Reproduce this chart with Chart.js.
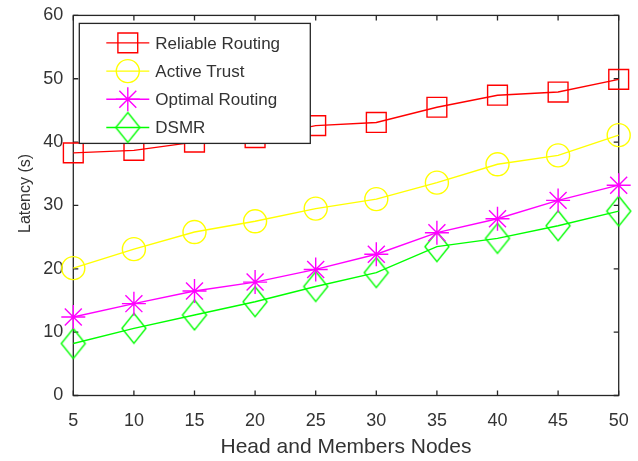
<!DOCTYPE html>
<html>
<head>
<meta charset="utf-8">
<script src="https://cdn.jsdelivr.net/npm/chart.js@4"></script>
<style>
  html, body { margin: 0; padding: 0; background: #fff; }
  #wrap { width: 638px; height: 461px; }
</style>
</head>
<body>
<div id="wrap"><canvas id="latency-chart"></canvas></div>
<script>
const nodes = [5, 10, 15, 20, 25, 30, 35, 40, 45, 50];
const reliableRouting = [38.3, 38.7, 40.0, 40.7, 42.6, 43.1, 45.5, 47.4, 47.9, 49.9];
const activeTrust = [20.1, 23.1, 25.8, 27.5, 29.5, 31.0, 33.6, 36.5, 37.9, 41.1];
const optimalRouting = [12.4, 14.5, 16.5, 17.9, 19.9, 22.3, 25.7, 27.9, 30.8, 33.2];
const dsmr = [8.2, 10.6, 12.7, 14.8, 17.2, 19.4, 23.5, 24.8, 26.8, 29.1];
const seriesNames = ['Reliable Routing', 'Active Trust', 'Optimal Routing', 'DSMR'];
const yTitle = 'Latency (s)';

const axisColor = '#262626';
const textColor = '#333333';
const fontFamily = '"Liberation Sans", Arial, sans-serif';

// tall diamond marker (matlab style 'd')
function diamondMarker(color) {
  const c = document.createElement('canvas');
  c.width = 28;
  c.height = 34;
  const g = c.getContext('2d');
  g.strokeStyle = color;
  g.lineWidth = 1.4;
  g.beginPath();
  g.moveTo(14, 2);
  g.lineTo(26, 17);
  g.lineTo(14, 32);
  g.lineTo(2, 17);
  g.closePath();
  g.stroke();
  return c;
}

function series(label, data, color, style, radius) {
  return {
    label: label,
    data: data.map((v, i) => ({ x: nodes[i], y: v })),
    borderColor: color,
    backgroundColor: 'transparent',
    borderWidth: 1.4,
    pointStyle: style,
    pointRadius: radius,
    pointBorderColor: color,
    pointBackgroundColor: 'transparent',
    pointBorderWidth: 1.4,
    tension: 0,
    clip: false,
  };
}

// box, top/right edges, inward tick marks and the y title
const frame = {
  id: 'frame',
  beforeDatasetsDraw(chart) {
    const { ctx, chartArea: a, scales } = chart;
    ctx.save();
    ctx.strokeStyle = axisColor;
    ctx.lineWidth = 1.3;
    ctx.strokeRect(a.left, a.top, a.right - a.left, a.bottom - a.top);
    ctx.beginPath();
    scales.x.ticks.forEach(t => {
      const px = scales.x.getPixelForValue(t.value);
      ctx.moveTo(px, a.bottom);
      ctx.lineTo(px, a.bottom - 5);
      ctx.moveTo(px, a.top);
      ctx.lineTo(px, a.top + 5);
    });
    scales.y.ticks.forEach(t => {
      const py = scales.y.getPixelForValue(t.value);
      ctx.moveTo(a.left, py);
      ctx.lineTo(a.left + 5, py);
      ctx.moveTo(a.right, py);
      ctx.lineTo(a.right - 5, py);
    });
    ctx.stroke();

    // y title sits a little above the middle of the axis
    ctx.translate(26, (a.top + a.bottom) / 2 - 12);
    ctx.rotate(-Math.PI / 2);
    ctx.fillStyle = textColor;
    ctx.font = '16px ' + fontFamily;
    ctx.textAlign = 'center';
    ctx.textBaseline = 'middle';
    ctx.fillText(yTitle, 0, 0);
    ctx.restore();
  },
};

// boxed legend in the upper left of the plot, line + marker samples
const boxLegend = {
  id: 'boxLegend',
  afterDatasetsDraw(chart) {
    const { ctx, chartArea: a } = chart;
    const left = a.left + 6;
    const top = a.top + 8;
    const width = 231;
    const height = 120;
    ctx.save();
    ctx.fillStyle = '#fff';
    ctx.fillRect(left, top, width, height);
    ctx.strokeStyle = axisColor;
    ctx.lineWidth = 1.3;
    ctx.strokeRect(left, top, width, height);
    chart.data.datasets.forEach((ds, i) => {
      const y = top + 19.5 + i * 28.2;
      const x0 = left + 27;
      const x1 = left + 70;
      ctx.strokeStyle = ds.borderColor;
      ctx.lineWidth = ds.borderWidth;
      ctx.beginPath();
      ctx.moveTo(x0, y);
      ctx.lineTo(x1, y);
      ctx.stroke();
      ctx.lineWidth = ds.pointBorderWidth;
      ctx.fillStyle = 'rgba(0,0,0,0)';
      Chart.helpers.drawPoint(ctx, {
        pointStyle: ds.pointStyle,
        radius: ds.pointRadius,
        rotation: 0,
        borderWidth: ds.pointBorderWidth,
      }, (x0 + x1) / 2, y);
      ctx.fillStyle = textColor;
      ctx.font = '17px ' + fontFamily;
      ctx.textAlign = 'left';
      ctx.textBaseline = 'middle';
      ctx.fillText(ds.label, left + 76, y + 1);
    });
    ctx.restore();
  },
};

new Chart(
  document.getElementById('latency-chart'),
  {
    type: 'line',
    data: {
      labels: nodes,
      datasets: [
        series(seriesNames[0], reliableRouting, '#ff0000', 'rect', 14),
        series(seriesNames[1], activeTrust, '#ffff00', 'circle', 11.5),
        series(seriesNames[2], optimalRouting, '#ff00ff', 'star', 12),
        series(seriesNames[3], dsmr, '#00ff00', diamondMarker('#00ff00'), 12),
      ],
    },
    options: {
      responsive: true,
      maintainAspectRatio: false,
      animation: false,
      events: [],
      layout: {
        padding: { top: 15, right: 19.3, left: 0, bottom: 0 },
      },
      plugins: {
        legend: { display: false },
        tooltip: { enabled: false },
      },
      scales: {
        x: {
          type: 'linear',
          min: 5,
          max: 50,
          ticks: {
            stepSize: 5,
            padding: 15,
            color: textColor,
            font: { family: fontFamily, size: 18 },
          },
          grid: { display: false, drawTicks: false },
          border: { display: false },
          title: {
            display: true,
            text: 'Head and Members Nodes',
            color: textColor,
            font: { family: fontFamily, size: 21 },
            padding: { top: 0, bottom: 1 },
          },
          afterFit(scale) {
            scale.height = 65.5;
            scale.paddingLeft = 0;
            scale.paddingRight = 0;
          },
        },
        y: {
          min: 0,
          max: 60,
          ticks: {
            stepSize: 10,
            padding: 10,
            color: textColor,
            font: { family: fontFamily, size: 18 },
          },
          grid: { display: false, drawTicks: false },
          border: { display: false },
          afterFit(scale) {
            scale.width = 73.3;
            scale.paddingTop = 0;
            scale.paddingBottom = 0;
          },
        },
      },
    },
    plugins: [frame, boxLegend],
  }
);
</script>
</body>
</html>
